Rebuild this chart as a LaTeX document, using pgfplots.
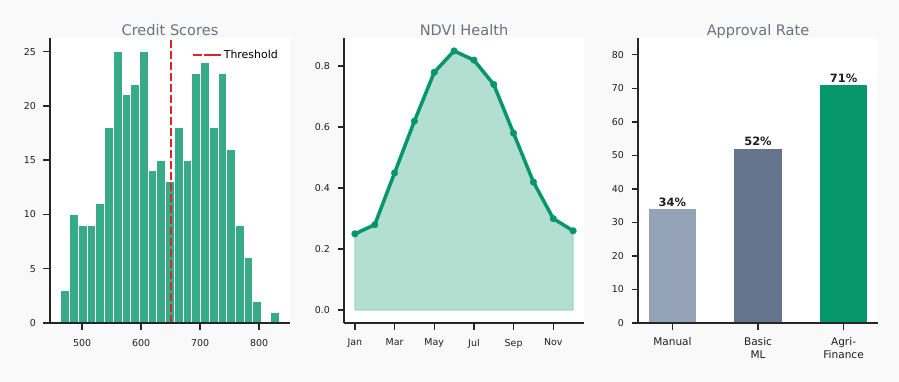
\documentclass[border=0pt]{standalone}
\usepackage{fontspec}
\setmainfont{DejaVu Sans}
\usepackage{pgfplots}
\pgfplotsset{compat=1.18}
\definecolor{emer}{RGB}{5,150,105}
\definecolor{histc}{RGB}{55,171,135}
\definecolor{spine}{RGB}{38,38,38}
\definecolor{titlec}{RGB}{107,114,128}
\definecolor{figbg}{RGB}{249,249,249}
\definecolor{thr}{RGB}{220,38,38}
\definecolor{slatea}{RGB}{148,163,184}
\definecolor{slateb}{RGB}{100,116,139}
\definecolor{labc}{RGB}{31,31,31}
\pgfplotsset{
  mystyle/.style={
    scale only axis, width=240bp, height=285bp, anchor=south west,
    axis x line*=bottom, axis y line*=left,
    axis line style={spine, line width=1.8bp},
    tick align=outside, major tick length=6.5bp,
    tick style={spine, line width=1.4bp},
    axis background/.style={fill=white},
    axis on top,
    ticklabel style={font=\fontsize{9.5}{10}\selectfont, text=black!88},
    xticklabel style={yshift=-6bp},
    yticklabel style={xshift=-4bp},
    /pgf/number format/assume math mode=true,
    title style={font=\fontsize{14.6}{16}\selectfont, text=titlec, at={(0.5,1)}, anchor=base, yshift=-3bp},
    clip=false,
  }
}
\begin{document}
\begin{tikzpicture}
\fill[figbg] (0,0) rectangle (899bp,382bp);
\useasboundingbox (0,0) rectangle (899bp,382bp);

% Histogram
\begin{axis}[mystyle, at={(50bp,59bp)},
  title={Credit Scores},
  xmin=445.5, xmax=852.5, ymin=0, ymax=26.25,
  xtick={500,600,700,800}, ytick={0,5,10,15,20,25},
  legend style={at={(1,1)}, anchor=north east, draw=none, fill=none,
    xshift=-7bp, yshift=-8bp, font=\fontsize{11}{12}\selectfont},
  legend image code/.code={\draw[#1, dash pattern=on 9bp off 4bp] (0bp,0bp) -- (22bp,0bp);
    \path (0bp,0bp) -- (28bp,0bp);},
]
\addplot[ybar interval, fill=histc, draw=white, line width=1bp, forget plot] coordinates {
(464.0,3) (478.8,10) (493.6,9) (508.4,9) (523.2,11) (538.0,18) (552.8,25)
(567.6,21) (582.4,22) (597.2,25) (612.0,14) (626.8,15) (641.6,13) (656.4,18)
(671.2,15) (686.0,23) (700.8,24) (715.6,18) (730.4,23) (745.2,16) (760.0,9)
(774.8,6) (789.6,2) (804.4,0) (819.2,1) (834.0,1)};
\addplot[thr, line width=2bp, dash pattern=on 7.7bp off 3.3bp] coordinates {(650,0) (650,26.25)};
\addlegendentry{Threshold}
\end{axis}

% NDVI
\begin{axis}[mystyle, at={(344bp,59bp)},
  title={NDVI Health},
  xmin=0.45, xmax=12.55, ymin=-0.0425, ymax=0.8925,
  xtick={1,3,5,7,9,11}, xticklabels={Jan,Mar,May,Jul,Sep,Nov},
  ytick={0,0.2,0.4,0.6,0.8},
  yticklabel style={/pgf/number format/.cd, fixed, fixed zerofill, precision=1},
]
\addplot[fill=emer, fill opacity=0.3, draw=emer, draw opacity=0.3, line width=1bp] coordinates {
(1,0) (1,0.25) (2,0.28) (3,0.45) (4,0.62) (5,0.78) (6,0.85) (7,0.82) (8,0.74)
(9,0.58) (10,0.42) (11,0.30) (12,0.26) (12,0) (1,0)};
\addplot[emer, line width=3.5bp, line join=round, mark=*, mark size=3.3bp,
  mark options={solid, fill=emer, draw=emer, line width=0.4bp}] coordinates {
(1,0.25) (2,0.28) (3,0.45) (4,0.62) (5,0.78) (6,0.85) (7,0.82) (8,0.74)
(9,0.58) (10,0.42) (11,0.30) (12,0.26)};
\end{axis}

% Approval
\begin{axis}[mystyle, at={(638bp,59bp)},
  title={Approval Rate},
  xmin=-0.4025, xmax=2.4025, ymin=0, ymax=85,
  xtick={0,1,2}, xticklabels={Manual,{Basic\\ML},{Agri-\\Finance}},
  xticklabel style={align=center, font=\fontsize{10.6}{12.8}\selectfont, yshift=1.5bp},
  ytick={0,10,...,80},
  nodes near coords={\pgfmathprintnumber{\pgfplotspointmeta}\%},
  every node near coord/.append style={font=\bfseries\fontsize{11.5}{12}\selectfont, text=labc, yshift=-1bp},
]
\addplot[ybar, bar width=0.55, bar shift=0pt, fill=slatea, draw=none] coordinates {(0,34)};
\addplot[ybar, bar width=0.55, bar shift=0pt, fill=slateb, draw=none] coordinates {(1,52)};
\addplot[ybar, bar width=0.55, bar shift=0pt, fill=emer, draw=none] coordinates {(2,71)};
\end{axis}
\end{tikzpicture}
\end{document}
